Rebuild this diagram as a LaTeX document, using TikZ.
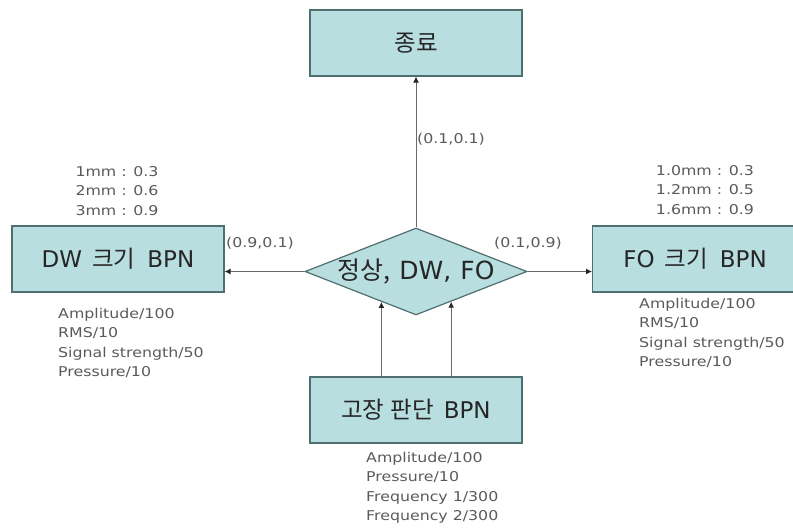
\documentclass[tikz,border=0pt]{standalone}
\usepackage{fontspec}
\setmainfont{DejaVu Sans}
\newfontfamily\kofont{Noto Sans CJK KR}
\newfontfamily\latfont{DejaVu Sans}
\newfontfamily\notefont[FakeStretch=1.17]{DejaVu Sans}
\usetikzlibrary{shapes.geometric,arrows.meta,calc}
\definecolor{boxfill}{HTML}{B8DEE0}
\definecolor{boxline}{HTML}{4F6F70}
\definecolor{notegray}{HTML}{5A5A5A}
\definecolor{linkgray}{HTML}{6A6A6A}
% Korean and Latin parts of a label use different fonts
\newcommand{\ko}[1]{{\kofont\fontsize{23.5}{24}\selectfont #1}}
\newcommand{\la}[1]{{\latfont\fontsize{23}{24}\selectfont #1}}
\newcommand{\kob}[1]{{\kofont\fontsize{25}{26}\selectfont #1}}
\newcommand{\lab}[1]{{\latfont\fontsize{25}{26}\selectfont #1}}
\tikzset{
  x=1pt, y=-1pt,
  bpnbox/.style={draw=boxline, line width=1.2pt, fill=boxfill, minimum width=212pt, minimum height=66pt, inner sep=0pt, text=black!85},
  decide/.style={diamond, draw=boxline, line width=1.2pt, fill=boxfill, minimum width=222pt, minimum height=87pt, inner sep=0pt, aspect=2.55, text=black!85},
  link/.style={draw=linkgray, line width=1pt, -{Latex[length=6pt,width=6pt,color=black!85]}},
  note/.style={text=notegray, font=\notefont\fontsize{13.5}{19.5}\selectfont, inner sep=0pt},
}
\begin{document}
\begin{tikzpicture}
\useasboundingbox (0,0) rectangle (793,531);
% BPN boxes and end box
\node[bpnbox] (end) at (416,43) {\ko{종료}};
\node[bpnbox] (dw) at (118,259) {\la{DW}\hspace{10pt}\ko{크기}\hspace{12pt}\la{BPN}};
\node[bpnbox, minimum width=205pt, anchor=west] (fo) at (592,259) {\la{FO}\hspace{10pt}\ko{크기}\hspace{12pt}\la{BPN}};
\node[bpnbox] (fault) at (416,410) {\ko{고장}\hspace{6pt}\ko{판단}\hspace{10pt}\la{BPN}};
% classifier diamond
\node[decide] (cls) at (416,271.5) {\kob{정상,}\hspace{9pt}\lab{DW,}\hspace{9pt}\lab{FO}};
\coordinate (cin1) at ($(cls.west)!0.69!(cls.south)$);
\coordinate (cin2) at ($(cls.east)!0.685!(cls.south)$);
% connectors
\draw[link] (cls.north) -- (end.south);
\draw[link] (cls.west) -- (dw.east |- cls.west);
\draw[link] (cls.east) -- (fo.west |- cls.east);
\draw[link] (fault.north -| cin1) -- (cin1);
\draw[link] (fault.north -| cin2) -- (cin2);
% connector labels
\node[note, anchor=west] (l1) at (417,139) {(0.1,0.1)};
\node[note, anchor=west] (l2) at (226,243) {(0.9,0.1)};
\node[note, anchor=west] (l3) at (494,243) {(0.1,0.9)};
% value notes
\node[note, align=center, anchor=north] (n1) at (117,166) {1mm : 0.3\\2mm : 0.6\\3mm : 0.9};
\node[note, align=center, anchor=north] (n2) at (705,165) {1.0mm : 0.3\\1.2mm : 0.5\\1.6mm : 0.9};
\node[note, align=left, anchor=north west] (n3) at (58,308) {Amplitude/100\\RMS/10\\Signal strength/50\\Pressure/10};
\node[note, align=left, anchor=north west] (n4) at (639,298) {Amplitude/100\\RMS/10\\Signal strength/50\\Pressure/10};
\node[note, align=left, anchor=north west] (n5) at (366,452) {Amplitude/100\\Pressure/10\\Frequency 1/300\\Frequency 2/300};
\end{tikzpicture}
\end{document}
